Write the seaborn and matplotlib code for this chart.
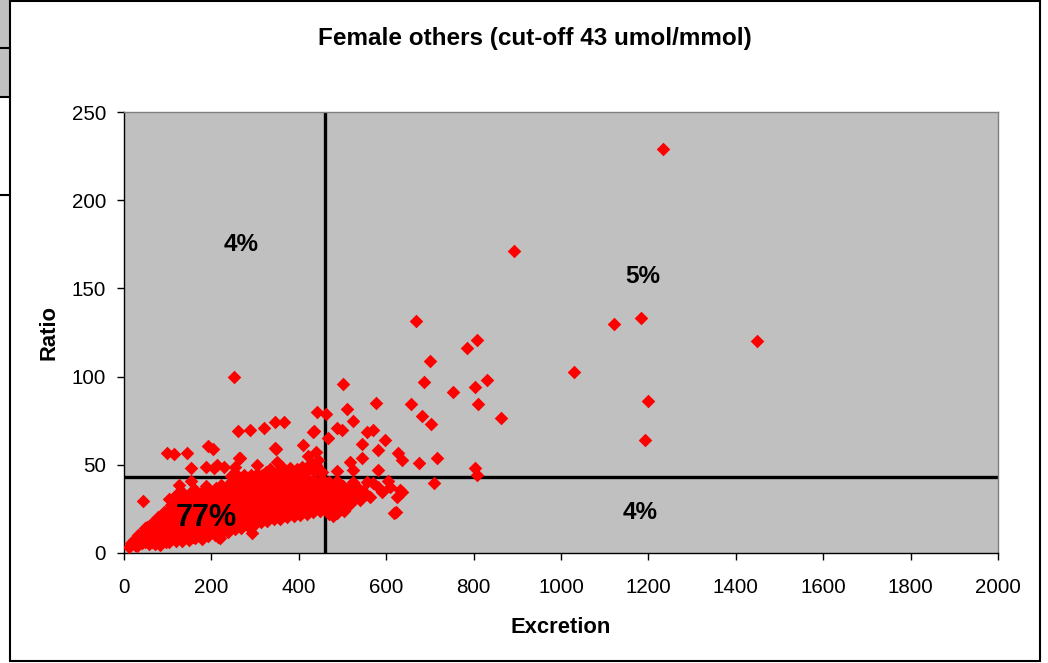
import matplotlib
matplotlib.use("Agg")
import matplotlib.pyplot as plt
import seaborn as sns
import pandas as pd
from matplotlib.patches import Rectangle
from matplotlib.lines import Line2D

TITLE = "Female others (cut-off 43 umol/mmol)"
X_LABEL = "Excretion"
Y_LABEL = "Ratio"
X_TICKS = list(range(0, 2001, 200))
Y_TICKS = list(range(0, 251, 50))
EXCRETION_CUTOFF = 460
RATIO_CUTOFF = 43

# share of samples in each quadrant
share_text = ["4%", "5%", "77%", "4%"]

# samples below both cut-offs (excretion, ratio)
below_both = [
    (12, 3.4), (17, 5.5), (22, 7.5), (25, 4.5), (29, 4), (33, 7), (31, 10), (36, 5.5),
    (41, 5.7), (46, 8), (44, 11.5), (49, 14), (48, 6), (43, 29.5), (53, 14.7),
    (57, 5), (62, 8.5), (60, 11), (56, 14), (63, 17), (65, 6),
    (72, 5), (76, 8), (74, 11.5), (79, 14), (73, 17.5), (77, 20.5), (82, 4.5),
    (88, 6), (93, 8.5), (90, 11), (86, 14.5), (94, 17), (89, 20), (92, 23.5), (96, 6),
    (103, 6.5), (107, 9.5), (101, 12.5), (109, 15), (104, 18.5), (106, 21), (102, 24.5), (108, 27), (104, 30.5),
    (118, 7), (123, 9.5), (120, 12.5), (116, 15.5), (124, 18), (119, 21.5), (122, 24), (117, 27.5), (125, 30), (120, 33),
    (126, 38.5),
    (133, 7), (138, 10.5), (131, 13), (139, 16), (134, 19.5), (137, 22), (132, 25), (140, 28.5), (135, 31), (133, 34.5),
    (148, 7.5), (153, 10), (150, 13.5), (146, 16), (154, 19), (149, 22.5), (152, 25), (147, 28), (155, 31.5), (151, 34), (158, 9),
    (153, 41),
    (163, 8.5), (168, 11), (161, 14), (169, 17.5), (164, 20), (167, 23), (162, 26.5), (170, 29), (165, 32), (163, 35.5),
    (178, 8), (183, 11.5), (180, 14), (176, 17), (184, 20.5), (179, 23), (182, 26), (177, 29.5), (185, 32), (180, 35), (188, 38),
    (193, 9.5), (198, 12), (191, 15), (199, 18.5), (194, 21), (197, 24), (192, 27.5), (200, 30), (195, 33), (193, 36.5),
    (208, 10), (213, 13.5), (210, 16), (206, 19), (214, 22.5), (209, 25), (212, 28), (207, 31.5), (215, 34), (210, 37),
    (215, 9), (220, 8.5),
    (223, 11.5), (228, 14), (221, 17), (229, 20.5), (224, 23), (227, 26), (222, 29.5), (230, 32), (225, 35), (223, 38.5),
    (238, 12), (243, 15.5), (240, 18), (236, 21), (244, 24.5), (239, 27), (242, 30), (237, 33.5), (245, 36), (240, 39), (248, 41),
    (253, 13.5), (258, 16), (251, 19), (259, 22.5), (254, 25), (257, 28), (252, 31.5), (260, 34), (255, 37), (253, 40.5),
    (268, 14), (273, 17.5), (270, 20), (266, 23), (274, 26.5), (269, 29), (272, 32), (267, 35.5), (275, 38), (270, 41),
    (283, 15.5), (288, 18), (281, 21), (289, 24.5), (284, 27), (287, 30), (282, 33.5), (290, 36), (285, 39), (283, 42),
    (293, 11.3),
    (298, 16), (303, 19.5), (300, 22), (296, 25), (304, 28.5), (299, 31), (302, 34), (297, 37.5), (305, 40), (300, 42.5),
    (313, 17.5), (318, 20), (311, 23), (319, 26.5), (314, 29), (317, 32), (312, 35.5), (320, 38), (315, 41),
    (328, 18), (333, 21.5), (330, 24), (326, 27), (334, 30.5), (329, 33), (332, 36), (327, 39.5), (335, 42),
    (343, 19.5), (348, 22), (341, 25), (349, 28.5), (344, 31), (347, 34), (342, 37.5), (350, 40), (345, 42.5),
    (358, 19), (363, 22.5), (360, 25), (356, 28), (364, 31.5), (359, 34), (362, 37), (357, 40.5), (365, 42),
    (373, 20.5), (378, 23), (371, 26), (379, 29.5), (374, 32), (377, 35), (372, 38.5), (380, 41),
    (388, 21), (393, 24.5), (390, 27), (386, 30), (394, 33.5), (389, 36), (392, 39), (387, 42),
    (403, 21.5), (408, 24), (401, 27), (409, 30.5), (404, 33), (407, 36), (402, 39.5), (410, 42),
    (418, 22), (423, 25.5), (420, 28), (416, 31), (424, 34.5), (419, 37), (422, 40), (417, 42.5),
    (433, 23.5), (438, 26), (431, 29), (439, 32.5), (434, 35), (437, 38), (432, 41.5),
    (448, 24), (453, 27.5), (450, 30), (446, 33), (454, 36.5), (449, 39), (452, 42),
]

# samples with low excretion but a high ratio
high_ratio_only = [
    (245, 43.5), (250, 45), (262, 43.5), (275, 44.5), (290, 44), (305, 45), (315, 44.5),
    (325, 46), (335, 47.5), (340, 45.5), (350, 44.5), (355, 47), (362, 48.5), (368, 46),
    (372, 44), (380, 48), (386, 45.5), (395, 47.5), (398, 44), (408, 49), (412, 45),
    (420, 48), (428, 51), (436, 46), (440, 50), (445, 52.5), (452, 46),
    (98, 56.7), (114, 56), (144, 56.7), (153, 48), (188, 49), (206, 48), (192, 60.6),
    (204, 59), (213, 50), (229, 49), (254, 49), (263, 54), (265, 54), (304, 50),
    (346, 59.5), (348, 59), (350, 51.6), (410, 61), (420, 55), (440, 57), (433, 68.6),
    (435, 69), (261, 69), (288, 70), (320, 71), (346, 74), (366, 74), (442, 80), (252, 100),
]

# samples above both cut-offs
above_both = [
    (462, 79), (467, 65), (487, 71), (499, 70), (501, 96), (510, 81.6), (524, 75),
    (545, 61.8), (545, 53.8), (556, 68.6), (570, 70), (577, 85), (581, 58.4), (597, 64),
    (517, 51.6), (487, 46.5), (524, 47), (581, 47), (627, 56.7), (636, 52.7),
    (657, 84.5), (668, 131.5), (675, 51), (682, 77.7), (687, 97), (700, 109), (703, 73),
    (716, 54), (753, 91), (785, 116), (803, 94), (803, 48), (808, 121), (808, 44),
    (810, 84.5), (831, 98), (862, 76.5), (892, 171), (1030, 102.6), (1121, 130),
    (1183, 133), (1192, 64), (1199, 86), (1233, 229), (1448, 120),
]

# samples with high excretion but a low ratio
high_excretion_only = [
    (463, 25), (466, 30), (462, 35), (468, 40), (470, 22), (472, 27), (476, 33), (474, 38),
    (478, 21), (480, 24), (484, 30), (482, 36), (488, 41), (487, 22.7), (492, 27), (496, 33),
    (500, 38), (501, 37), (504, 24), (506, 26.6), (508, 30), (512, 36), (483, 32), (471, 28),
    (518, 28), (524, 30), (524, 40), (526, 33), (532, 38), (535, 34), (540, 30), (548, 35),
    (556, 40), (563, 31.7), (570, 39.7), (581, 37.4), (590, 34.6), (604, 41), (609, 37.4),
    (618, 22.7), (622, 23), (625, 32), (632, 35.7), (636, 34.6), (709, 39.7),
]

groups = {
    "low": below_both,
    "upper_left": high_ratio_only,
    "upper_right": above_both,
    "lower_right": high_excretion_only,
}
frames = [pd.DataFrame(pts, columns=[X_LABEL, Y_LABEL]).assign(group=name)
          for name, pts in groups.items()]
df = pd.concat(frames, ignore_index=True)

sns.set_style("white")
plt.rcParams["font.family"] = ["Liberation Sans", "DejaVu Sans"]
plt.rcParams.update({
    "text.color": "black",
    "axes.labelcolor": "black",
    "xtick.color": "black",
    "ytick.color": "black",
})

W, H = 1048, 663
fig = plt.figure(figsize=(W / 100, H / 100), dpi=100)
ax = fig.add_axes([124 / W, 1 - 553 / H, 874 / W, 441 / H])
ax.set_facecolor("#C0C0C0")

# cut-off lines
ax.axvline(EXCRETION_CUTOFF, color="black", lw=2.4, zorder=2)
ax.axhline(RATIO_CUTOFF, color="black", lw=2.4, zorder=2)

sns.scatterplot(data=df, x=X_LABEL, y=Y_LABEL, marker="D", s=48,
                color="#FF0000", linewidth=0, legend=False, ax=ax, zorder=3)

ax.set_xlim(0, 2000)
ax.set_ylim(0, 250)
ax.set_xticks(X_TICKS)
ax.set_yticks(Y_TICKS)
ax.tick_params(axis="both", which="major", direction="out", length=5, width=1,
               color="black", labelsize=14.8, labelcolor="black",
               bottom=True, left=True)
ax.tick_params(axis="x", pad=13)
ax.tick_params(axis="y", pad=8)

for side in ("left", "bottom"):
    ax.spines[side].set_color("black")
    ax.spines[side].set_linewidth(1.0)
for side in ("top", "right"):
    ax.spines[side].set_color("#808080")
    ax.spines[side].set_linewidth(1.0)

ax.set_xlabel(X_LABEL, fontsize=15.8, fontweight="bold", color="black")
ax.set_ylabel(Y_LABEL, fontsize=15.8, fontweight="bold", color="black")
ax.xaxis.set_label_coords(0.5, -0.145)
ax.yaxis.set_label_coords(-0.074, 0.5)

# quadrant shares
share_pos = [(268, 175), (1188, 157), (188, 20), (1181, 23)]
share_size = [17.5, 17.5, 22, 17.5]
for txt, (px, py), fs in zip(share_text, share_pos, share_size):
    ax.text(px, py, txt, ha="center", va="center", fontsize=fs,
            fontweight="bold", color="black", zorder=5)

fig.text(535 / W, 1 - 45 / H, TITLE, ha="center", va="baseline",
         fontsize=17.5, fontweight="bold", color="black")

# chart frame and neighbouring sheet cells
fig.add_artist(Rectangle((0, 1 - 97 / H), 9.5 / W, 97 / H, transform=fig.transFigure,
                         facecolor="#C0C0C0", edgecolor="none", zorder=0))
for yy in (48, 97, 195):
    fig.add_artist(Line2D([0, 10 / W], [1 - yy / H, 1 - yy / H],
                          transform=fig.transFigure, color="black", lw=1.5))
fig.add_artist(Rectangle((10 / W, 1 - 661 / H), 1030 / W, 660 / H,
                         transform=fig.transFigure, fill=False,
                         edgecolor="black", lw=1.5))

fig.savefig("out.png", dpi=100)
